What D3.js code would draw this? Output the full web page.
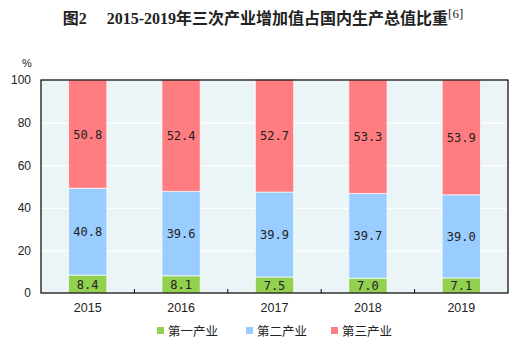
<!DOCTYPE html>
<html>
<head>
<meta charset="utf-8">
<script src="https://cdn.jsdelivr.net/npm/d3@7"></script>
<style>
  body { margin: 0; background: #fff; }
  svg { display: block; }
</style>
</head>
<body>
<div id="chart"></div>
<script>
const years = ['2015', '2016', '2017', '2018', '2019'];
const primary = [8.4, 8.1, 7.5, 7.0, 7.1];
const secondary = [40.8, 39.6, 39.9, 39.7, 39.0];
const tertiary = [50.8, 52.4, 52.7, 53.3, 53.9];
const seriesNames = ['第一产业', '第二产业', '第三产业'];
const yTicks = [0, 20, 40, 60, 80, 100];

const colors = ['#92D050', '#99CCFF', '#FF7C80'];

const width = 526, height = 350;
const margin = { top: 80, right: 18, bottom: 57, left: 41 };
const W = width - margin.left - margin.right;
const H = height - margin.top - margin.bottom;

const rows = years.map((y, i) => ({ year: y, s0: primary[i], s1: secondary[i], s2: tertiary[i] }));
const stack = d3.stack().keys(['s0', 's1', 's2'])(rows);

const x = d3.scaleBand().domain(years).range([0, W]).paddingInner(0.59).paddingOuter(0.295);
const y = d3.scaleLinear().domain([0, 100]).range([H, 0]);

const svg = d3.select('#chart').append('svg').attr('width', width).attr('height', height);

// title
const title = svg.append('text')
  .attr('x', 263).attr('y', 24)
  .attr('text-anchor', 'middle')
  .attr('font-family', '"Liberation Serif", "Noto Sans CJK SC", serif')
  .attr('font-weight', 'bold')
  .attr('font-size', '16px')
  .attr('fill', '#222');
title.append('tspan').text('图2\u2003 2015-2019年三次产业增加值占国内生产总值比重');
title.append('tspan').attr('dy', -6).attr('font-size', '13px').attr('font-weight', 'normal').text('[6]');

const g = svg.append('g').attr('transform', `translate(${margin.left},${margin.top})`);

g.append('rect').attr('width', W).attr('height', H).attr('fill', '#EBF5F8');

// gridlines
g.append('g')
  .call(d3.axisLeft(y).tickValues([20, 40, 60, 80]).tickSize(-W).tickFormat(''))
  .call(a => a.select('.domain').remove())
  .call(a => a.selectAll('.tick line').attr('stroke', '#fff').attr('stroke-width', 1.2));

// bars
stack.forEach((layer, k) => {
  g.append('g').selectAll('rect').data(layer).join('rect')
    .attr('x', d => x(d.data.year))
    .attr('y', d => y(d[1]))
    .attr('width', x.bandwidth())
    .attr('height', d => y(d[0]) - y(d[1]))
    .attr('fill', colors[k])
    .attr('stroke', '#fff')
    .attr('stroke-opacity', 0.7)
    .attr('stroke-width', 1);
});

// value labels
stack.forEach((layer) => {
  g.append('g').selectAll('text').data(layer).join('text')
    .attr('x', d => x(d.data.year) + x.bandwidth() / 2)
    .attr('y', d => (y(d[0]) + y(d[1])) / 2)
    .attr('dy', '0.38em')
    .attr('text-anchor', 'middle')
    .attr('font-family', '"DejaVu Sans Mono", monospace')
    .attr('font-size', '12px')
    .attr('fill', '#222')
    .text(d => (d[1] - d[0]).toFixed(1));
});

// frame
g.append('rect').attr('width', W).attr('height', H)
  .attr('fill', 'none').attr('stroke', '#000').attr('stroke-width', 1.2);

// y axis labels
g.append('g')
  .call(d3.axisLeft(y).tickValues(yTicks).tickSize(0).tickPadding(10))
  .call(a => a.select('.domain').remove())
  .call(a => a.selectAll('text')
    .attr('font-family', 'Arial, "Liberation Sans", sans-serif')
    .attr('font-size', '12px').attr('fill', '#222'));

g.append('text').attr('x', -19).attr('y', -13)
  .attr('font-family', '"Liberation Sans", sans-serif')
  .attr('font-size', '11px').attr('fill', '#222').text('%');

// x axis with ticks between bands
const edges = d3.range(1, years.length).map(i => i * W / years.length);
g.append('g').attr('transform', `translate(0,${H})`)
  .selectAll('line').data(edges).join('line')
  .attr('x1', d => d).attr('x2', d => d).attr('y1', 0).attr('y2', -4)
  .attr('stroke', '#000');

g.append('g').attr('transform', `translate(0,${H})`)
  .call(d3.axisBottom(x).tickSize(0).tickPadding(10))
  .call(a => a.select('.domain').remove())
  .call(a => a.selectAll('text')
    .attr('font-family', 'Arial, "Liberation Sans", sans-serif')
    .attr('font-size', '12.5px').attr('fill', '#222'));

// legend
const legendX = [157, 246, 331];
const legend = svg.append('g').attr('transform', 'translate(0,331)');
seriesNames.forEach((name, i) => {
  legend.append('rect').attr('x', legendX[i]).attr('y', -4).attr('width', 7).attr('height', 7).attr('fill', colors[i]);
  legend.append('text').attr('x', legendX[i] + 11).attr('y', 0).attr('dy', '0.38em')
    .attr('font-family', '"Noto Sans CJK SC", sans-serif')
    .attr('font-size', '12.5px').attr('fill', '#222').text(name);
});
</script>
</body>
</html>
